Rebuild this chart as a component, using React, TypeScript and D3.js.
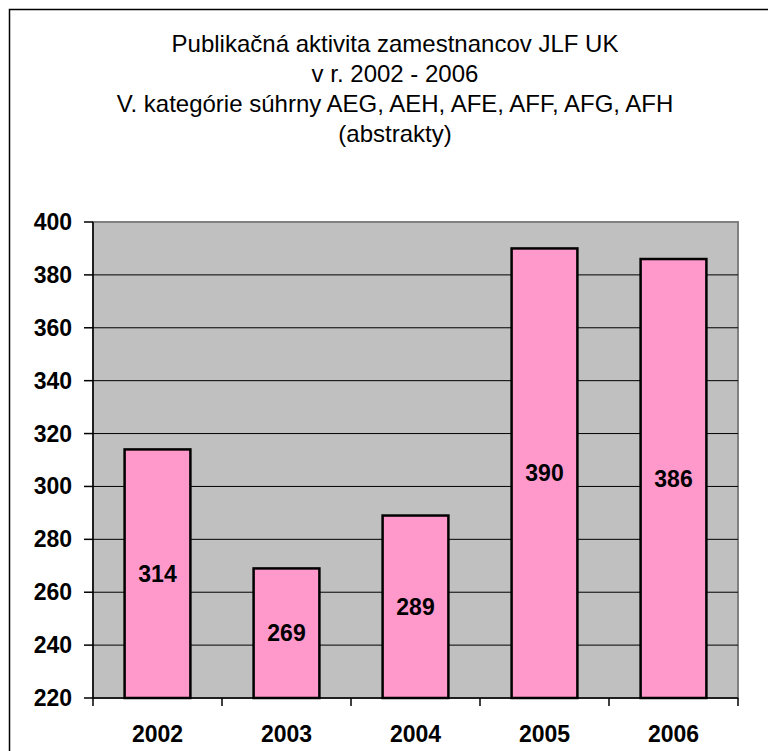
import React from 'react';
import * as d3 from 'd3';

const years = ['2002', '2003', '2004', '2005', '2006'];
const counts = [314, 269, 289, 390, 386];
const yTicks = [220, 240, 260, 280, 300, 320, 340, 360, 380, 400];
const titleLines = [
  'Publikačná aktivita zamestnancov JLF UK',
  'v r. 2002 - 2006',
  'V. kategórie súhrny AEG, AEH, AFE, AFF, AFG, AFH',
  '(abstrakty)',
];

const App = () => {
  const width = 768;
  const height = 751;
  const plot = { left: 93, right: 738, top: 222, bottom: 698 };
  const font = 'Arial, "Liberation Sans", sans-serif';

  const x = d3.scaleBand().domain(years).range([plot.left, plot.right]).padding(0);
  const y = d3.scaleLinear().domain([220, 400]).range([plot.bottom, plot.top]);
  const bw = x.bandwidth();
  const barW = bw * 0.51;

  return (
    <svg
      width={width}
      height={height}
      style={{ position: 'absolute', left: 0, top: 0, background: '#fff' }}
      fontFamily={font}
    >
      {/* outer frame */}
      <rect x={9.5} y={9.5} width={820} height={820} fill="#fff" stroke="#000" strokeWidth={1.5} />

      {titleLines.map((t, i) => (
        <text key={i} x={395} y={52 + i * 30} textAnchor="middle" fontSize={24} fill="#000">
          {t}
        </text>
      ))}

      {/* plot area */}
      <rect
        x={plot.left}
        y={plot.top}
        width={plot.right - plot.left}
        height={plot.bottom - plot.top}
        fill="#c0c0c0"
        stroke="#808080"
        strokeWidth={2}
      />

      {yTicks.slice(1, -1).map(v => (
        <line key={v} x1={plot.left} x2={plot.right} y1={y(v)} y2={y(v)} stroke="#000" strokeWidth={1} />
      ))}

      {years.map((yr, i) => {
        const top = y(counts[i]);
        const bx = (x(yr) as number) + (bw - barW) / 2;
        return (
          <g key={yr}>
            <rect
              x={bx}
              y={top}
              width={barW}
              height={plot.bottom - top}
              fill="#ff99cc"
              stroke="#000"
              strokeWidth={2.5}
            />
            <text
              x={bx + barW / 2}
              y={(top + plot.bottom) / 2}
              textAnchor="middle"
              dominantBaseline="central"
              fontSize={23}
              fontWeight="bold"
            >
              {counts[i]}
            </text>
          </g>
        );
      })}

      {/* y axis */}
      <line x1={plot.left} x2={plot.left} y1={plot.top} y2={plot.bottom} stroke="#000" strokeWidth={1.5} />
      {yTicks.map(v => (
        <g key={v}>
          <line x1={plot.left - 9} x2={plot.left} y1={y(v)} y2={y(v)} stroke="#000" strokeWidth={1.5} />
          <text
            x={72}
            y={y(v)}
            textAnchor="end"
            dominantBaseline="central"
            fontSize={23}
            fontWeight="bold"
          >
            {v}
          </text>
        </g>
      ))}

      {/* x axis */}
      <line x1={plot.left} x2={plot.right} y1={plot.bottom} y2={plot.bottom} stroke="#000" strokeWidth={1.5} />
      {[...years.map(yr => x(yr) as number), plot.right].map((px, i) => (
        <line key={i} x1={px} x2={px} y1={plot.bottom} y2={plot.bottom + 8} stroke="#000" strokeWidth={1.5} />
      ))}
      {years.map(yr => (
        <text
          key={yr}
          x={(x(yr) as number) + bw / 2}
          y={742}
          textAnchor="middle"
          fontSize={23}
          fontWeight="bold"
        >
          {yr}
        </text>
      ))}
    </svg>
  );
};

export default App;
